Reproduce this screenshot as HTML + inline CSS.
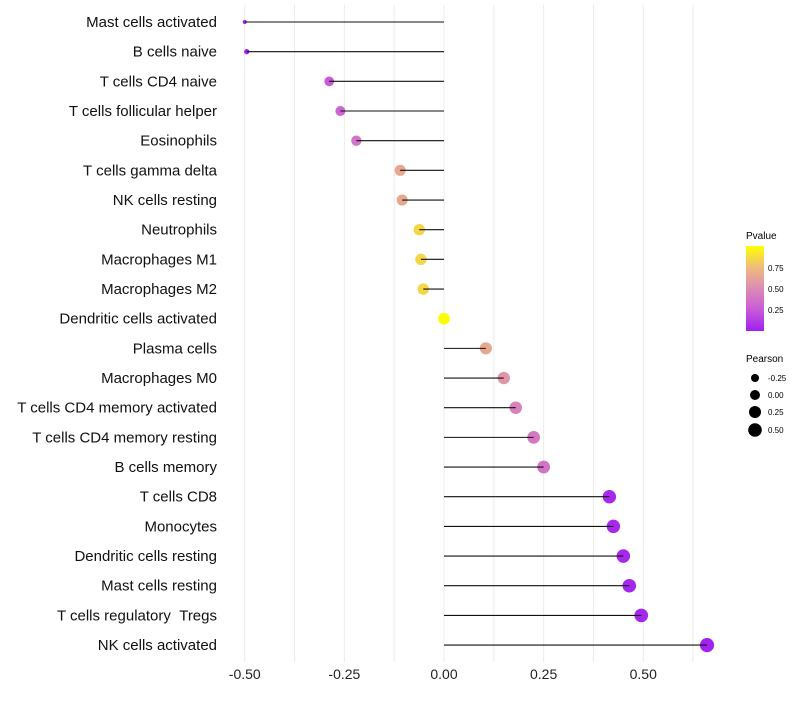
<!DOCTYPE html>
<html><head><meta charset="utf-8"><style>
body{margin:0;background:#fff;font-family:"Liberation Sans",sans-serif}
</style></head><body>
<svg id="chart" width="800" height="700" xmlns="http://www.w3.org/2000/svg" font-family="Liberation Sans, sans-serif">
<defs><linearGradient id="pg" x1="0" y1="1" x2="0" y2="0">
<stop offset="0" stop-color="#a020f0"/><stop offset="0.25" stop-color="#c85ad8"/><stop offset="0.5" stop-color="#dc8cb4"/><stop offset="0.75" stop-color="#efbb7c"/><stop offset="1" stop-color="#ffff00"/></linearGradient></defs>
<g id="grid"></g><g id="marks"></g><g id="ylabels"></g><g id="xlabels"></g>
<g id="legend">
<text x="746" y="239" font-size="10">Pvalue</text>
<rect x="746" y="246" width="18" height="85" fill="url(#pg)"/>
<text x="768" y="271" font-size="8">0.75</text>
<text x="768" y="292" font-size="8">0.50</text>
<text x="768" y="313" font-size="8">0.25</text>
<text x="746" y="362" font-size="10">Pearson</text>
<circle cx="755" cy="378" r="4"/><text x="768" y="381" font-size="8">-0.25</text>
<circle cx="755" cy="395" r="5"/><text x="768" y="398" font-size="8">0.00</text>
<circle cx="755" cy="412" r="6"/><text x="768" y="415" font-size="8">0.25</text>
<circle cx="755" cy="430" r="6.8"/><text x="768" y="433" font-size="8">0.50</text>
</g>
</svg>
<script>
const cells=["Mast cells activated","B cells naive","T cells CD4 naive","T cells follicular helper","Eosinophils","T cells gamma delta","NK cells resting","Neutrophils","Macrophages M1","Macrophages M2","Dendritic cells activated","Plasma cells","Macrophages M0","T cells CD4 memory activated","T cells CD4 memory resting","B cells memory","T cells CD8","Monocytes","Dendritic cells resting","Mast cells resting","T cells regulatory \u00a0Tregs","NK cells activated"];
const pearson=[-0.50,-0.495,-0.288,-0.26,-0.22,-0.11,-0.105,-0.062,-0.058,-0.052,0.0,0.105,0.15,0.18,0.225,0.25,0.415,0.425,0.45,0.465,0.495,0.66];
const pvalue=[0.01,0.01,0.25,0.3,0.38,0.65,0.65,0.85,0.85,0.85,0.99,0.65,0.55,0.45,0.4,0.38,0.04,0.04,0.04,0.03,0.03,0.01];
const xTicks=[-0.5,-0.25,0,0.25,0.5];
const xTickLabels=["-0.50","-0.25","0.00","0.25","0.50"];
const NS="http://www.w3.org/2000/svg";
const X=v=>444+v*398.5;
const Y=i=>22+i*29.67;
const R=v=>{const t=Math.max(0,(v+0.5)/1.16);return Math.sqrt(4+46*Math.pow(t,0.5));};
const stops=[[0,[160,32,240]],[0.25,[200,90,216]],[0.5,[220,140,180]],[0.75,[239,187,124]],[1,[255,255,0]]];
function col(p){p=Math.max(0,Math.min(1,p));for(let k=1;k<stops.length;k++){if(p<=stops[k][0]){const a=stops[k-1],b=stops[k],t=(p-a[0])/(b[0]-a[0]);return"rgb("+a[1].map((c,j)=>Math.round(c+(b[1][j]-c)*t)).join(",")+")";}}}
function mk(t,a,parent){const e=document.createElementNS(NS,t);for(const k in a)e.setAttribute(k,a[k]);document.getElementById(parent).appendChild(e);return e;}
for(let g=-0.5;g<=0.626;g+=0.125){const l=mk("line",{x1:X(g),x2:X(g),y1:5,y2:662,stroke:"#ebebeb","stroke-width":1},"grid");

}
xTicks.forEach((v,i)=>{const t=mk("text",{x:X(v),y:679,"font-size":14,"text-anchor":"middle",fill:"#222"},"xlabels");t.textContent=xTickLabels[i];

});
cells.forEach((c,i)=>{
const t=mk("text",{x:217,y:Y(i)+5,"font-size":15,"text-anchor":"end",fill:"#111"},"ylabels");t.textContent=c;


const d=mk("circle",{cx:X(pearson[i]),cy:Y(i),r:R(pearson[i]),fill:col(pvalue[i])},"marks");


const l=mk("line",{x1:X(0),x2:X(pearson[i]),y1:Y(i),y2:Y(i),stroke:"#111","stroke-width":1.1},"marks");


});
</script>
</body></html>
